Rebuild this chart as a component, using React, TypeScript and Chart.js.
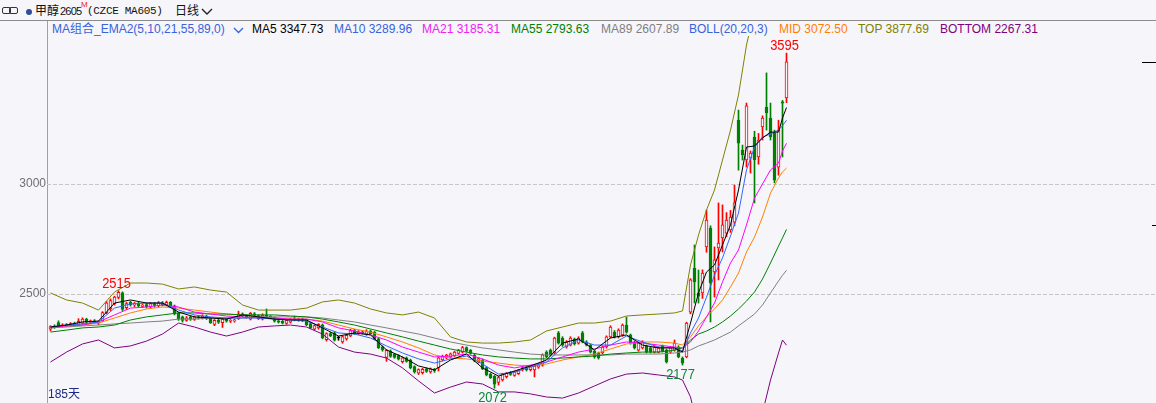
import React, { useEffect, useRef } from "react";
import { Chart, registerables } from "chart.js";

Chart.register(...registerables);

// ---------- DATA (daily candles, 185 days) ----------
const opens = [
  2340, 2352, 2370, 2355, 2360, 2356, 2366, 2360, 2368, 2386,
  2372, 2378, 2368, 2378, 2414, 2432, 2456, 2484, 2505, 2438,
  2462, 2450, 2458, 2444, 2452, 2440, 2456, 2446, 2460, 2450,
  2462, 2446, 2412, 2396, 2380, 2396, 2384, 2396, 2390, 2400,
  2390, 2362, 2380, 2370, 2386, 2376, 2378, 2388, 2410, 2402,
  2386, 2410, 2402, 2386, 2402, 2398, 2392, 2378, 2376, 2366,
  2372, 2386, 2382, 2386, 2380, 2366, 2340, 2346, 2360, 2292,
  2320, 2324, 2300, 2282, 2296, 2310, 2334, 2322, 2328, 2318,
  2332, 2326, 2296, 2260, 2212, 2240, 2226, 2220, 2192, 2210,
  2200, 2170, 2140, 2142, 2160, 2146, 2158, 2164, 2200, 2210,
  2214, 2220, 2230, 2236, 2256, 2244, 2222, 2190, 2200, 2166,
  2136, 2126, 2098, 2110, 2124, 2142, 2130, 2138, 2158, 2166,
  2156, 2155, 2168, 2177, 2236, 2245, 2232, 2323, 2300, 2259,
  2268, 2295, 2277, 2323, 2282, 2268, 2240, 2232, 2232, 2259,
  2305, 2327, 2305, 2314, 2359, 2314, 2282, 2245, 2255, 2263,
  2255, 2236, 2236, 2263, 2245, 2236, 2245, 2259, 2209, 2214,
  2418, 2618, 2505, 2505, 2714, 2800, 2600, 2709, 2755, 2777,
  2791, 2827, 3291, 3154, 3109, 3118, 3213, 3123, 3259, 3350,
  3300, 3232, 3077, 3374, 3391,
];
const highs = [
  2356, 2360, 2378, 2365, 2366, 2370, 2372, 2388, 2392, 2390,
  2382, 2384, 2378, 2420, 2466, 2478, 2490, 2515, 2510, 2462,
  2468, 2462, 2462, 2456, 2460, 2462, 2462, 2466, 2466, 2468,
  2466, 2450, 2416, 2400, 2398, 2400, 2400, 2402, 2406, 2404,
  2394, 2384, 2386, 2390, 2390, 2384, 2386, 2422, 2414, 2406,
  2416, 2416, 2406, 2410, 2432, 2402, 2396, 2384, 2380, 2384,
  2390, 2400, 2390, 2390, 2384, 2370, 2360, 2366, 2364, 2324,
  2326, 2330, 2308, 2310, 2316, 2340, 2340, 2334, 2334, 2338,
  2336, 2330, 2300, 2264, 2248, 2246, 2230, 2224, 2214, 2214,
  2204, 2174, 2160, 2162, 2164, 2164, 2162, 2214, 2222, 2226,
  2232, 2240, 2248, 2262, 2260, 2248, 2226, 2210, 2204, 2170,
  2140, 2130, 2126, 2140, 2144, 2148, 2150, 2156, 2170, 2172,
  2176, 2178, 2184, 2228, 2242, 2250, 2304, 2330, 2306, 2288,
  2306, 2300, 2306, 2330, 2288, 2272, 2244, 2236, 2264, 2310,
  2356, 2334, 2342, 2364, 2395, 2318, 2286, 2282, 2288, 2268,
  2260, 2264, 2260, 2268, 2250, 2260, 2291, 2265, 2214, 2372,
  2570, 2723, 2609, 2610, 2882, 2810, 2714, 2914, 2905, 2870,
  2880, 2995, 3336, 3177, 3368, 3150, 3240, 3230, 3310, 3505,
  3368, 3245, 3290, 3380, 3595,
];
const lows = [
  2332, 2344, 2350, 2350, 2352, 2352, 2356, 2356, 2362, 2366,
  2366, 2366, 2360, 2374, 2410, 2425, 2450, 2478, 2425, 2430,
  2445, 2442, 2440, 2438, 2436, 2436, 2440, 2442, 2446, 2446,
  2440, 2405, 2380, 2372, 2376, 2380, 2380, 2386, 2386, 2384,
  2366, 2356, 2366, 2348, 2372, 2370, 2372, 2384, 2396, 2390,
  2382, 2400, 2384, 2382, 2394, 2390, 2372, 2368, 2364, 2362,
  2368, 2378, 2376, 2374, 2356, 2342, 2336, 2340, 2296, 2286,
  2306, 2286, 2290, 2276, 2290, 2306, 2316, 2316, 2318, 2312,
  2316, 2292, 2252, 2240, 2194, 2212, 2208, 2200, 2186, 2190,
  2160, 2140, 2134, 2136, 2144, 2140, 2144, 2150, 2196, 2206,
  2210, 2216, 2226, 2232, 2236, 2226, 2192, 2186, 2156, 2128,
  2116, 2072, 2086, 2104, 2118, 2130, 2126, 2134, 2150, 2150,
  2150, 2123, 2162, 2172, 2210, 2218, 2228, 2272, 2262, 2254,
  2264, 2268, 2272, 2278, 2264, 2232, 2208, 2204, 2228, 2254,
  2300, 2300, 2300, 2308, 2322, 2272, 2250, 2240, 2250, 2232,
  2232, 2232, 2232, 2236, 2186, 2232, 2240, 2210, 2177, 2210,
  2410, 2459, 2459, 2480, 2690, 2373, 2486, 2564, 2691, 2760,
  2780, 2810, 3063, 3109, 3077, 3050, 2914, 3090, 3200, 3245,
  3200, 3005, 3040, 3123, 3370,
];
const closes = [
  2352, 2348, 2355, 2360, 2357, 2366, 2360, 2376, 2386, 2372,
  2378, 2370, 2374, 2416, 2460, 2470, 2486, 2508, 2430, 2456,
  2450, 2456, 2446, 2450, 2442, 2456, 2448, 2460, 2450, 2462,
  2446, 2410, 2386, 2380, 2392, 2386, 2396, 2392, 2400, 2390,
  2370, 2380, 2372, 2386, 2376, 2378, 2382, 2410, 2400, 2394,
  2412, 2404, 2388, 2404, 2398, 2394, 2376, 2372, 2368, 2380,
  2386, 2382, 2386, 2380, 2360, 2346, 2356, 2362, 2300, 2320,
  2310, 2290, 2300, 2306, 2312, 2334, 2320, 2328, 2324, 2332,
  2320, 2296, 2256, 2246, 2244, 2216, 2212, 2204, 2210, 2194,
  2164, 2146, 2156, 2158, 2148, 2160, 2150, 2210, 2216, 2222,
  2228, 2236, 2246, 2256, 2240, 2230, 2196, 2206, 2160, 2132,
  2120, 2090, 2120, 2136, 2140, 2134, 2146, 2152, 2164, 2156,
  2170, 2172, 2178, 2223, 2214, 2223, 2300, 2277, 2268, 2282,
  2300, 2273, 2300, 2282, 2268, 2236, 2214, 2209, 2259, 2305,
  2350, 2305, 2336, 2359, 2327, 2277, 2255, 2277, 2282, 2236,
  2236, 2259, 2255, 2240, 2191, 2255, 2277, 2214, 2186, 2368,
  2564, 2555, 2490, 2595, 2836, 2550, 2655, 2732, 2814, 2836,
  2850, 2914, 3186, 3132, 3355, 3141, 3109, 3200, 3300, 3323,
  3214, 3018, 3245, 3368, 3555,
];

// Indicator lines
const lineDays = [
  0, 4, 8, 12, 16, 20, 24, 28, 32, 36,
  40, 44, 48, 52, 56, 60, 64, 68, 72, 76,
  80, 84, 88, 92, 96, 100, 104, 108, 112, 116,
  120, 124, 128, 132, 136, 140, 144, 148, 152, 156,
  158, 160, 162, 164, 166, 168, 170, 172, 174, 176, 178, 180, 182, 183, 184,
];
const ma5 = [
  2350, 2359, 2373, 2377, 2459, 2473, 2459, 2459, 2418, 2396,
  2391, 2386, 2405, 2396, 2386, 2382, 2382, 2346, 2309, 2323,
  2314, 2246, 2214, 2173, 2155, 2200, 2227, 2164, 2127, 2150,
  2173, 2200, 2277, 2296, 2246, 2300, 2314, 2268, 2255, 2255,
  2236, 2368, 2505, 2600, 2632, 2723, 2814, 2973, 3168, 3173, 3209, 3236, 3236, 3300, 3347.73,
];
const ma10 = [
  2350, 2359, 2364, 2373, 2436, 2455, 2459, 2459, 2427, 2405,
  2396, 2391, 2391, 2391, 2386, 2382, 2377, 2350, 2323, 2318,
  2300, 2264, 2232, 2205, 2186, 2205, 2218, 2182, 2136, 2145,
  2168, 2191, 2255, 2291, 2268, 2268, 2309, 2282, 2259, 2255,
  2241, 2323, 2391, 2486, 2586, 2664, 2764, 2868, 3064, 3168, 3214, 3227, 3245, 3265, 3289.96,
];
const ma21 = [
  2350, 2355, 2359, 2373, 2405, 2436, 2441, 2450, 2441, 2418,
  2409, 2400, 2396, 2391, 2391, 2386, 2386, 2373, 2346, 2332,
  2314, 2291, 2259, 2236, 2214, 2218, 2227, 2205, 2177, 2164,
  2177, 2191, 2214, 2236, 2250, 2268, 2282, 2277, 2268, 2259,
  2255, 2282, 2332, 2396, 2459, 2555, 2641, 2700, 2814, 2936, 3000, 3064, 3095, 3150, 3185.31,
];
const ma55 = [
  2327, 2336, 2346, 2350, 2359, 2382, 2396, 2405, 2414, 2414,
  2409, 2409, 2405, 2405, 2405, 2400, 2396, 2386, 2373, 2359,
  2341, 2323, 2305, 2286, 2268, 2250, 2236, 2223, 2214, 2209,
  2205, 2205, 2209, 2214, 2218, 2227, 2232, 2236, 2236, 2245,
  2255, 2291, 2318, 2332, 2350, 2373, 2400, 2432, 2468, 2509, 2568, 2641, 2718, 2755, 2793.63,
];
const ma89 = [
  2346, 2350, 2355, 2359, 2364, 2368, 2373, 2377, 2386, 2386,
  2391, 2391, 2391, 2396, 2396, 2396, 2396, 2391, 2382, 2373,
  2359, 2346, 2332, 2318, 2300, 2282, 2268, 2255, 2246, 2236,
  2227, 2223, 2223, 2223, 2223, 2223, 2227, 2227, 2227, 2232,
  2236, 2246, 2264, 2277, 2291, 2309, 2327, 2355, 2382, 2409, 2450, 2505, 2559, 2585, 2607.89,
];
const bollMid = [
  2350, 2355, 2359, 2368, 2391, 2414, 2432, 2441, 2436, 2427,
  2418, 2409, 2405, 2396, 2391, 2386, 2386, 2377, 2359, 2341,
  2327, 2305, 2282, 2255, 2223, 2209, 2205, 2195, 2186, 2177,
  2173, 2182, 2200, 2214, 2227, 2250, 2273, 2282, 2282, 2277,
  2268, 2305, 2355, 2396, 2432, 2473, 2532, 2595, 2691, 2759, 2850, 2959, 3027, 3055, 3072.5,
];
const bollTop = [
  2505, 2473, 2459, 2427, 2509, 2550, 2550, 2545, 2523, 2532,
  2518, 2509, 2450, 2427, 2427, 2427, 2436, 2464, 2473, 2459,
  2432, 2414, 2405, 2418, 2391, 2305, 2282, 2277, 2277, 2282,
  2291, 2332, 2350, 2368, 2368, 2377, 2400, 2405, 2409, 2414,
  2423, 2632, 2768, 2882, 2973, 3109, 3245, 3405, 3632, 3790, 3840, 3860, 3870, 3874, 3877.69,
];
const bollBottom = [
  2191, 2236, 2273, 2291, 2255, 2264, 2286, 2318, 2368, 2350,
  2327, 2309, 2327, 2350, 2355, 2359, 2350, 2318, 2259, 2236,
  2227, 2209, 2164, 2105, 2050, 2077, 2100, 2091, 2055, 2055,
  2046, 2032, 2027, 2050, 2082, 2114, 2136, 2141, 2132, 2123,
  2109, 2032, 1880, 1760, 1650, 1560, 1500, 1480, 1560, 1700, 1960, 2109, 2232, 2291, 2267.31,
];

const yTicks = [2500, 3000];
const extremeDays = [17, 111, 158, 184];
const extremeKinds = ["high", "low", "low", "high"];
const priceMarks = [3555, 2814];
const totalDays = 185;

// ---------- STYLE ----------
const BG = "#f5f5fa";
const RED = "#ff0000";
const GREEN = "#008000";
const LABEL_GREEN = "#10883a";
const BLUE = "#3763dc";
const C_MA5 = "#000000";
const C_MA10 = "#3366ff";
const C_MA21 = "#ff00ff";
const C_MA55 = "#008000";
const C_MA89 = "#808080";
const C_MID = "#ff8000";
const C_TOP = "#808000";
const C_BOT = "#800080";

const Y_MIN = 2004.6;
const Y_MAX = 3672.8;
const X_MIN = -0.875;
const X_MAX = 276.375;

const last = (a: number[]) => a[a.length - 1].toFixed(2);

export default function App() {
  const canvasRef = useRef<HTMLCanvasElement | null>(null);

  useEffect(() => {
    document.body.style.margin = "0";
    document.body.style.background = BG;
    const canvas = canvasRef.current;
    if (!canvas) return;

    const days = closes.map((_, i) => i);
    const candleColor = (i: number) =>
      closes[i] > opens[i] ? RED : closes[i] < opens[i] ? GREEN : "#000000";

    const lineDs = (label: string, values: number[], color: string) => ({
      type: "line" as const,
      label,
      data: lineDays.map((d, k) => ({ x: d, y: values[k] })),
      borderColor: color,
      borderWidth: 1,
      pointRadius: 0,
      fill: false,
      tension: 0,
      order: 0,
    });

    const extremesPlugin = {
      id: "extremes",
      afterDatasetsDraw(chart: any) {
        const { ctx } = chart;
        const xs = chart.scales.x;
        const ys = chart.scales.y;
        ctx.save();
        ctx.font = "15px 'Liberation Sans', Arial, sans-serif";
        ctx.textAlign = "center";
        ctx.textBaseline = "alphabetic";
        extremeDays.forEach((d, k) => {
          const isHigh = extremeKinds[k] === "high";
          const v = isHigh ? highs[d] : lows[d];
          const px = xs.getPixelForValue(d) - 2;
          const py = ys.getPixelForValue(v);
          const base = isHigh ? py - 3 : py + 13.5;
          ctx.fillStyle = isHigh ? RED : LABEL_GREEN;
          ctx.save();
          ctx.translate(px, base);
          ctx.scale(0.86, 1);
          ctx.fillText(String(v), 0, 0);
          ctx.restore();
        });
        // price marks on the right edge
        const lens = [14, 4];
        ctx.strokeStyle = "#000000";
        ctx.lineWidth = 1;
        priceMarks.forEach((v, k) => {
          const py = Math.round(ys.getPixelForValue(v)) + 0.5;
          ctx.beginPath();
          ctx.moveTo(chart.chartArea.right - lens[k], py);
          ctx.lineTo(chart.chartArea.right, py);
          ctx.stroke();
        });
        ctx.restore();
      },
    };

    const chart = new Chart(canvas, {
      type: "bar",
      data: {
        datasets: [
          lineDs("MA5", ma5, C_MA5),
          lineDs("MA10", ma10, C_MA10),
          lineDs("MA21", ma21, C_MA21),
          lineDs("MA55", ma55, C_MA55),
          lineDs("MA89", ma89, C_MA89),
          lineDs("MID", bollMid, C_MID),
          lineDs("TOP", bollTop, C_TOP),
          lineDs("BOTTOM", bollBottom, C_BOT),
          {
            type: "bar",
            label: "body",
            data: days.map((i) => ({
              x: i,
              y: [Math.min(opens[i], closes[i]), Math.max(opens[i], closes[i])],
            })),
            backgroundColor: days.map((i) => (closes[i] > opens[i] ? BG : candleColor(i))),
            borderColor: days.map(candleColor),
            borderWidth: 1,
            borderSkipped: false,
            barThickness: 3,
            minBarLength: 1,
            grouped: false,
            order: 1,
          },
          {
            type: "bar",
            label: "wick",
            data: days.map((i) => ({ x: i, y: [lows[i], highs[i]] })),
            backgroundColor: days.map(candleColor),
            borderWidth: 0,
            barThickness: 1,
            grouped: false,
            order: 2,
          },
        ] as any,
      },
      options: {
        animation: false,
        responsive: false,
        maintainAspectRatio: false,
        events: [],
        layout: { padding: { top: 36, left: 0, right: 0, bottom: 0 } },
        plugins: { legend: { display: false }, tooltip: { enabled: false } },
        scales: {
          x: { type: "linear", min: X_MIN, max: X_MAX, display: false, offset: false },
          y: {
            type: "linear",
            min: Y_MIN,
            max: Y_MAX,
            afterBuildTicks: (s: any) => {
              s.ticks = yTicks.map((v) => ({ value: v }));
            },
            afterFit: (s: any) => {
              s.width = 47;
              s.paddingTop = 0;
              s.paddingBottom = 0;
            },
            grid: { color: "#c6c6c6", drawTicks: false, lineWidth: 1 },
            border: { display: false, dash: [4, 2] },
            ticks: {
              color: "#707070",
              padding: 1,
              font: { family: "'Liberation Sans', Arial, sans-serif", size: 12 },
              callback: (v: any) => String(v),
            },
          },
        },
      } as any,
      plugins: [extremesPlugin],
    });
    return () => chart.destroy();
  }, []);

  const legend = [
    { x: 252, text: `MA5 ${last(ma5)}`, color: "#000000" },
    { x: 334, text: `MA10 ${last(ma10)}`, color: BLUE },
    { x: 422, text: `MA21 ${last(ma21)}`, color: "#f020f0" },
    { x: 511, text: `MA55 ${last(ma55)}`, color: "#008000" },
    { x: 601, text: `MA89 ${last(ma89)}`, color: "#808080" },
    { x: 689, text: "BOLL(20,20,3)", color: BLUE },
    { x: 779, text: `MID ${last(bollMid)}`, color: "#ff8000" },
    { x: 858, text: `TOP ${last(bollTop)}`, color: "#808000" },
    { x: 940, text: `BOTTOM ${last(bollBottom)}`, color: "#800080" },
  ];

  const font = "'Liberation Sans', 'Noto Sans CJK SC', Arial, sans-serif";
  const abs = (left: number, top: number, extra: any = {}) => ({
    position: "absolute" as const,
    left,
    top,
    whiteSpace: "nowrap" as const,
    ...extra,
  });

  return (
    <div
      style={{
        position: "fixed",
        left: 0,
        top: 0,
        width: 1156,
        height: 403,
        background: BG,
        overflow: "hidden",
        fontFamily: font,
      }}
    >
      {/* header bar */}
      <div style={abs(2, 7, { width: 7, height: 5, border: "1.5px solid #333", borderRadius: 2 })} />
      <div style={abs(9, 7, { width: 7, height: 5, border: "1.5px solid #333", borderRadius: 2 })} />
      <div style={abs(26, 9, { width: 6, height: 6, borderRadius: 3, background: "#2c4f96" })} />
      <span style={abs(35, 2, { fontSize: 12, lineHeight: "16px", color: "#111", fontFamily: "'Noto Sans CJK SC', sans-serif" })}>甲醇</span>
      <span style={abs(60, 3, { fontSize: 11, lineHeight: "16px", color: "#111", letterSpacing: -0.8 })}>2605</span>
      <span style={abs(81, 0, { fontSize: 8, lineHeight: "10px", color: "#e82020" })}>M</span>
      <span style={abs(87, 3, { fontSize: 11, lineHeight: "16px", color: "#111", fontFamily: "'Liberation Mono', monospace", letterSpacing: -0.3 })}>
        (CZCE MA605)
      </span>
      <span style={abs(175, 2, { fontSize: 12, lineHeight: "16px", color: "#111", fontFamily: "'Noto Sans CJK SC', sans-serif" })}>日线</span>
      <svg style={abs(201, 8)} width={12} height={8}>
        <polyline points="1,1 6,6 11,1" fill="none" stroke="#222" strokeWidth={1.4} />
      </svg>
      <div style={abs(0, 20, { width: 1156, height: 1, background: "#8c8c8c" })} />
      <div style={abs(47, 21, { width: 1, height: 382, background: "#a0a0a0" })} />

      {/* indicator legend */}
      <span style={abs(52, 21, { fontSize: 12, lineHeight: "16px", color: BLUE })}>
        MA组合_EMA2(5,10,21,55,89,0)
      </span>
      <svg style={abs(233, 27)} width={11} height={7}>
        <polyline points="1,1 5.5,5.5 10,1" fill="none" stroke={BLUE} strokeWidth={1.3} />
      </svg>
      {legend.map((l) => (
        <span key={l.text} style={abs(l.x, 21, { fontSize: 12, lineHeight: "16px", color: l.color })}>
          {l.text}
        </span>
      ))}

      <canvas
        ref={canvasRef}
        width={1156}
        height={403}
        style={{ position: "absolute", left: 0, top: 0, width: 1156, height: 403 }}
      />

      <span style={abs(48, 386, { fontSize: 12, lineHeight: "16px", color: "#1c2a80" })}>
        {totalDays}天
      </span>
    </div>
  );
}
